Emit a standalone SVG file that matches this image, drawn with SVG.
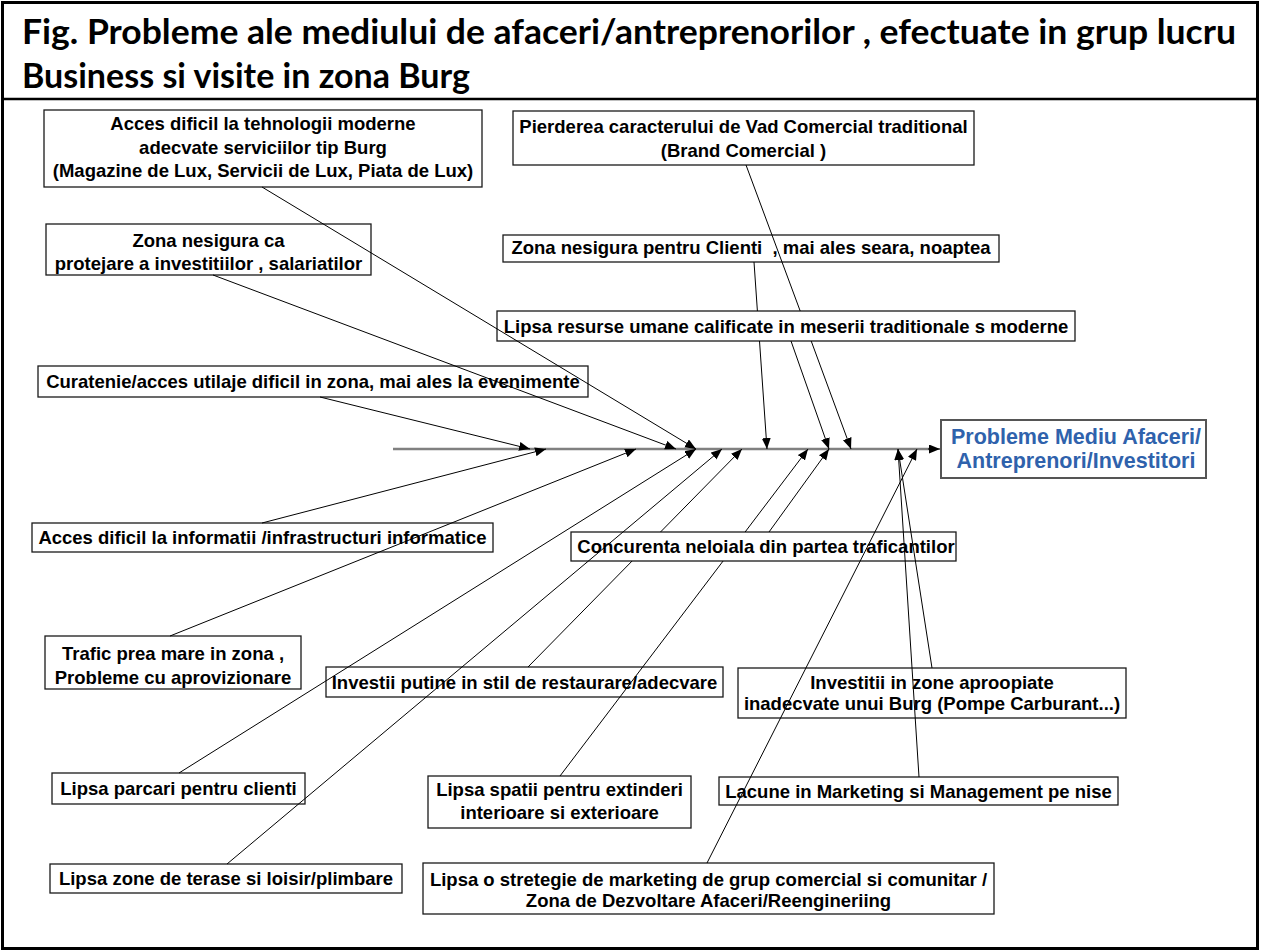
<svg xmlns="http://www.w3.org/2000/svg" width="1261" height="952" viewBox="0 0 1261 952">
<style>
.bx{fill:#fff;stroke:#1a1a1a;stroke-width:1.3}
.t{font-family:"Liberation Sans",Arial,sans-serif;font-weight:bold;font-size:18.5px;fill:#000;text-anchor:middle}
.title{font-family:Lato,"Open Sans",sans-serif;font-weight:bold;font-size:35px;fill:#000}
.ln{stroke:#000;stroke-width:1;fill:none;marker-end:url(#ah)}
.seg{stroke:#000;stroke-width:1;fill:none}
</style>
<defs>
<marker id="ah" markerUnits="userSpaceOnUse" markerWidth="12" markerHeight="10" refX="11" refY="4.5" orient="auto">
<path d="M0,0 L11,4.5 L0,9 z" fill="#000"/>
</marker>
</defs>
<rect x="0" y="0" width="1261" height="952" fill="#fff"/>
<g id="frame">
<rect x="2.5" y="2.5" width="1255" height="946" fill="none" stroke="#000" stroke-width="3"/>
<line x1="2" y1="99" x2="1258" y2="99" stroke="#000" stroke-width="2.5"/>
<text class="title" x="22" y="44" textLength="1214" lengthAdjust="spacingAndGlyphs">Fig. Probleme ale mediului de afaceri/antreprenorilor , efectuate in grup lucru</text>
<text class="title" x="22" y="88" textLength="448" lengthAdjust="spacingAndGlyphs">Business si visite in zona Burg</text>
</g>
<g id="nA"><rect class="bx" x="44" y="110" width="438" height="77"/>
<text class="t" x="263" y="130">Acces dificil la tehnologii moderne</text>
<text class="t" x="263" y="154">adecvate serviciilor tip Burg</text>
<text class="t" x="263" y="177">(Magazine de Lux, Servicii de Lux, Piata de Lux)</text></g>
<g id="nB"><rect class="bx" x="46" y="224" width="325" height="51"/>
<text class="t" x="208.5" y="247">Zona nesigura ca</text>
<text class="t" x="208.5" y="270">protejare a investitiilor , salariatilor</text></g>
<g id="nC"><rect class="bx" x="38" y="366" width="550" height="31"/>
<text class="t" x="313" y="388">Curatenie/acces utilaje dificil in zona, mai ales la evenimente</text></g>
<g id="nP"><rect class="bx" x="513" y="111" width="461" height="54"/>
<text class="t" x="743.5" y="133">Pierderea caracterului de Vad Comercial traditional</text>
<text class="t" x="743.5" y="157">(Brand Comercial )</text></g>
<g id="nZ"><rect class="bx" x="503" y="235" width="496" height="27"/>
<text class="t" x="751" y="253.5" xml:space="preserve">Zona nesigura pentru Clienti  , mai ales seara, noaptea</text></g>
<g id="nR"><rect class="bx" x="497" y="311" width="578" height="30"/>
<text class="t" x="786" y="332.5">Lipsa resurse umane calificate in meserii traditionale s moderne</text></g>
<g id="nD"><rect class="bx" x="32" y="523" width="461" height="29"/>
<text class="t" x="262.5" y="544">Acces dificil la informatii /infrastructuri informatice</text></g>
<g id="nE"><rect class="bx" x="45" y="636" width="256" height="53"/>
<text class="t" x="173" y="660">Trafic prea mare in zona ,</text>
<text class="t" x="173" y="684">Probleme cu aprovizionare</text></g>
<g id="nF"><rect class="bx" x="326" y="667" width="397" height="30"/>
<text class="t" x="524.5" y="688.5">Investii putine in stil de restaurare/adecvare</text></g>
<g id="nM"><rect class="bx" x="571" y="532" width="385" height="29"/>
<text class="t" x="766" y="553">Concurenta neloiala din partea traficantilor</text></g>
<g id="nL"><rect class="bx" x="738" y="668" width="388" height="50"/>
<text class="t" x="932" y="689">Investitii in zone aproopiate</text>
<text class="t" x="932" y="710">inadecvate unui Burg (Pompe Carburant...)</text></g>
<g id="nG"><rect class="bx" x="52" y="773" width="253" height="31"/>
<text class="t" x="178.5" y="795">Lipsa parcari pentru clienti</text></g>
<g id="nK"><rect class="bx" x="719" y="777" width="399" height="28"/>
<text class="t" x="918.5" y="798">Lacune in Marketing si Management pe nise</text></g>
<g id="nI"><rect class="bx" x="428" y="776" width="263" height="52"/>
<text class="t" x="559.5" y="796">Lipsa spatii pentru extinderi</text>
<text class="t" x="559.5" y="819">interioare si exterioare</text></g>
<g id="nH"><rect class="bx" x="50" y="864" width="352" height="29"/>
<text class="t" x="226" y="885">Lipsa zone de terase si loisir/plimbare</text></g>
<g id="nJ"><rect class="bx" x="423" y="863" width="571" height="51"/>
<text class="t" x="708.5" y="886">Lipsa o stretegie de marketing de grup comercial si comunitar /</text>
<text class="t" x="708.5" y="907">Zona de Dezvoltare Afaceri/Reengineriing</text></g>
<g id="nN"><rect x="941" y="420" width="265" height="58" fill="#fff" stroke="#555" stroke-width="2"/>
<text class="t" x="1076" y="444" style="font-size:21.5px;fill:#2F62AC">Probleme Mediu Afaceri/</text>
<text class="t" x="1076" y="468" style="font-size:21.5px;fill:#2F62AC">Antreprenori/Investitori</text></g>
<g id="connectors">
<line x1="393" y1="449" x2="930" y2="449" stroke="#808080" stroke-width="2.5"/>
<line class="ln" x1="928" y1="449" x2="940" y2="449"/>
<line class="ln" x1="262" y1="187" x2="696" y2="449"/>
<line class="ln" x1="213" y1="275" x2="676" y2="449"/>
<line class="ln" x1="320" y1="397" x2="530" y2="449"/>
<path class="seg" d="M754,262 L757.4,311"/>
<line class="ln" x1="759.5" y1="341" x2="767" y2="449"/>
<path class="seg" d="M746,165 L800.2,311"/>
<line class="ln" x1="811.2" y1="341" x2="851" y2="449"/>
<line class="ln" x1="791" y1="341" x2="829" y2="449"/>
<line class="ln" x1="262" y1="523" x2="546" y2="449"/>
<line class="ln" x1="170" y1="636" x2="636" y2="449"/>
<line class="ln" x1="179" y1="773" x2="696" y2="449"/>
<line class="ln" x1="227" y1="864" x2="722" y2="449"/>
<path class="seg" d="M528,667 L632.1,561"/>
<line class="ln" x1="660.5" y1="532" x2="742" y2="449"/>
<path class="seg" d="M560,776 L723.1,561"/>
<line class="ln" x1="745.1" y1="532" x2="808" y2="449"/>
<line class="ln" x1="769" y1="532" x2="829" y2="449"/>
<line class="ln" x1="707" y1="863" x2="917" y2="449"/>
<line class="ln" x1="919" y1="777" x2="898" y2="449"/>
<line class="ln" x1="932" y1="668" x2="898" y2="449"/>
</g>
</svg>
